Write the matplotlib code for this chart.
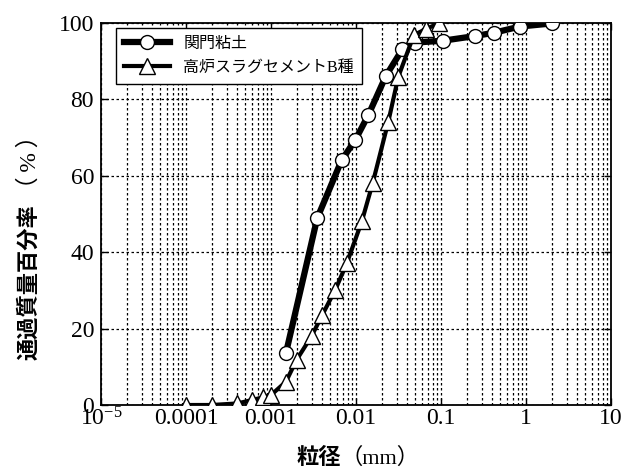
import matplotlib
matplotlib.use("Agg")
import matplotlib.pyplot as plt
from matplotlib.ticker import LogLocator, FixedLocator, FixedFormatter, NullFormatter

plt.rcParams['font.family'] = ['Liberation Serif', 'Noto Sans CJK JP']
plt.rcParams['mathtext.fontset'] = 'custom'
plt.rcParams['mathtext.rm'] = 'Liberation Serif'

# 関門粘土
clay_d = [0.0015, 0.0035, 0.0068, 0.0098, 0.014, 0.0225, 0.035, 0.05, 0.106, 0.25, 0.425, 0.85, 2.0]
clay_p = [13.6, 48.9, 64.1, 69.3, 75.9, 86.1, 93.0, 94.8, 95.3, 96.5, 97.4, 99.0, 99.8]

# 高炉スラグセメントB種
cem_d = [0.0001, 0.0002, 0.0004, 0.0006, 0.0008, 0.001, 0.0015, 0.002, 0.003, 0.004,
         0.0057, 0.0078, 0.0117, 0.0157, 0.024, 0.0315, 0.048, 0.066, 0.095]
cem_p = [0.0, 0.0, 0.4, 1.3, 2.0, 2.6, 6.1, 11.8, 18.0, 23.5,
         30.1, 37.1, 48.0, 58.0, 74.1, 85.9, 96.8, 98.3, 99.9]

xticks = [1e-5, 1e-4, 1e-3, 1e-2, 1e-1, 1, 10]
xticklabels = [r'$\mathregular{10^{-5}}$', '0.0001', '0.001', '0.01', '0.1', '1', '10']
yticks = [0, 20, 40, 60, 80, 100]

W, H = 635, 473
fig = plt.figure(figsize=(W/100, H/100), dpi=100)
ax = fig.add_axes([101/W, 1-405/H, 510/W, (405-22.7)/H])

ax.plot(clay_d, clay_p, color='black', lw=4.5, marker='o', ms=10,
        mfc='white', mec='black', mew=1.0, label='関門粘土', zorder=3)
ax.plot(cem_d, cem_p, color='black', lw=3.0, marker='^', ms=11,
        mfc='white', mec='black', mew=1.0, label='高炉スラグセメントB種', zorder=4)

ax.set_xscale('log')
ax.set_xlim(1e-5, 10)
ax.set_ylim(0, 100)
ax.xaxis.set_major_locator(FixedLocator(xticks))
ax.xaxis.set_major_formatter(FixedFormatter(xticklabels))
ax.xaxis.set_minor_locator(LogLocator(base=10, subs=range(2, 10), numticks=20))
ax.xaxis.set_minor_formatter(NullFormatter())
ax.set_yticks(yticks)

ax.grid(True, which='both', axis='x', color='black', linestyle=(0, (2, 2)), linewidth=0.9)
ax.grid(True, which='major', axis='y', color='black', linestyle=(0, (2, 2)), linewidth=0.9)
ax.set_axisbelow(True)

ax.tick_params(which='major', direction='in', length=5, width=1, top=True, right=True,
               labelsize=17)
ax.tick_params(axis='x', which='major', pad=2)
ax.tick_params(axis='y', which='major', pad=5)
ax.tick_params(which='minor', direction='in', length=0, top=True, right=True)
for s in ax.spines.values():
    s.set_linewidth(1.3)

# x label: bold Japanese + regular unit
fig.text(341/W, 1-458/H, '粒径', fontsize=16, fontweight='bold',
         ha='right', va='center')
fig.text(341/W, 1-458/H, '（mm）', fontsize=16, ha='left', va='center')

# y label: bold Japanese + regular unit, rotated
fig.text(30/W, 1-360/H, '通過質量百分率', fontsize=16, fontweight='bold',
         rotation=90, ha='center', va='bottom')
fig.text(30/W, 1-200/H, '（\u2009%\u2009）', fontsize=17, rotation=90,
         ha='center', va='bottom')

leg = ax.legend(loc='upper left', bbox_to_anchor=(15/510, 1 - 5/382.3),
                fontsize=11.5, frameon=True, fancybox=False,
                edgecolor='black', framealpha=1, handlelength=2.9,
                borderaxespad=0.0, labelspacing=0.5, borderpad=0.5)
leg.get_frame().set_linewidth(1.0)

fig.savefig('out.png', dpi=100)
